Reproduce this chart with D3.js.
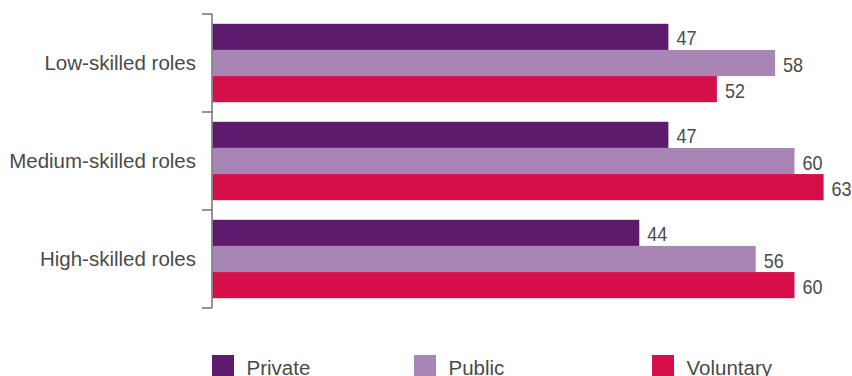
<!DOCTYPE html>
<html>
<head>
<meta charset="utf-8">
<script src="https://cdn.jsdelivr.net/npm/d3@7"></script>
<style>
  html, body { margin: 0; padding: 0; background: #fff; }
  svg { display: block; font-family: "Liberation Sans", Arial, sans-serif; }
</style>
</head>
<body>
<svg id="chart" width="852" height="376"></svg>
<script>
// Share of respondents by sector and skill level of role
const categories = ["Low-skilled roles", "Medium-skilled roles", "High-skilled roles"];
const seriesNames = ["Private", "Public", "Voluntary"];
const privateValues = [47, 47, 44];
const publicValues = [58, 60, 56];
const voluntaryValues = [52, 63, 60];
const seriesColors = ["#5e1b6e", "#a785b4", "#d50f48"];

const seriesValues = [privateValues, publicValues, voluntaryValues];

const svg = d3.select("#chart");
const textColor = "#4a4a4a";
const fontSize = 20.5;
const valueSize = 21;
const digitWidth = 10; // value labels use slightly condensed digits

const x = d3.scaleLinear().domain([0, 100]).range([212.5, 1182.5]);
const y = d3.scaleBand().domain(categories).range([14, 308])
  .paddingInner(0.2).paddingOuter(0.1);
const ySub = d3.scaleBand().domain(seriesNames).range([0, y.bandwidth()]);

// Bars and value labels
const groups = svg.append("g").selectAll("g")
  .data(categories)
  .join("g")
  .attr("transform", d => `translate(0,${y(d)})`);

groups.each(function(cat, ci) {
  const g = d3.select(this);
  const rows = seriesNames.map((s, si) => ({ s, si, v: seriesValues[si][ci] }));
  g.selectAll("rect")
    .data(rows)
    .join("rect")
    .attr("x", x(0))
    .attr("y", d => ySub(d.s))
    .attr("width", d => x(d.v) - x(0))
    .attr("height", ySub.bandwidth())
    .attr("fill", d => seriesColors[d.si]);
  g.selectAll("text")
    .data(rows)
    .join("text")
    .attr("x", d => x(d.v) + 8)
    .attr("y", d => ySub(d.s) + ySub.bandwidth() / 2 + valueSize * 0.36 + 1)
    .attr("fill", textColor)
    .attr("font-size", valueSize)
    .attr("textLength", d => String(d.v).length * digitWidth)
    .attr("lengthAdjust", "spacingAndGlyphs")
    .text(d => d.v);
});

// Bracket-style category axis: ticks sit between bands
const axisColor = "#707070";
const axisX = x(0) - 0.5;
const boundaries = d3.range(categories.length + 1).map(i => y.range()[0] + i * y.step());
const axisG = svg.append("g");
axisG.append("line")
  .attr("x1", axisX).attr("x2", axisX)
  .attr("y1", boundaries[0]).attr("y2", boundaries[boundaries.length - 1])
  .attr("stroke", axisColor).attr("stroke-width", 1.5);
axisG.selectAll(".tick")
  .data(boundaries)
  .join("line")
  .attr("class", "tick")
  .attr("x1", axisX - 10).attr("x2", axisX)
  .attr("y1", d => d).attr("y2", d => d)
  .attr("stroke", axisColor).attr("stroke-width", 1.5);
axisG.selectAll(".cat")
  .data(categories)
  .join("text")
  .attr("class", "cat")
  .attr("x", 196)
  .attr("y", d => y(d) + y.bandwidth() / 2 + fontSize * 0.36)
  .attr("text-anchor", "end")
  .attr("fill", textColor)
  .attr("font-size", fontSize)
  .text(d => d);

// Legend
const legendX = [212, 414, 652];
const legend = svg.append("g").selectAll("g")
  .data(seriesNames)
  .join("g")
  .attr("transform", (d, i) => `translate(${legendX[i]},355)`);
legend.append("rect")
  .attr("width", 22).attr("height", 22)
  .attr("fill", (d, i) => seriesColors[i]);
legend.append("text")
  .attr("x", 34.5).attr("y", 19.5)
  .attr("fill", textColor)
  .attr("font-size", fontSize)
  .text(d => d);
</script>
</body>
</html>
